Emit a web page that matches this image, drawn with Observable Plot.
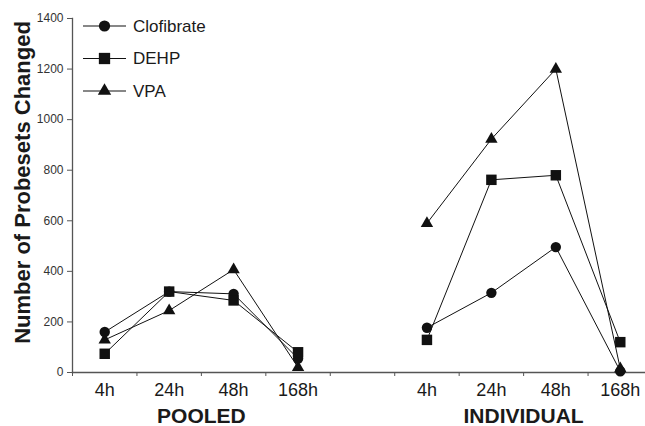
<!DOCTYPE html>
<html>
<head>
<meta charset="utf-8">
<script src="https://cdn.jsdelivr.net/npm/d3@7"></script>
<script src="https://cdn.jsdelivr.net/npm/@observablehq/plot@0.6"></script>
<style>
  html, body { margin: 0; padding: 0; background: white; overflow: hidden; }
  #chart { width: 645px; height: 426px; overflow: hidden; }
  g[aria-label="group labels"] text { letter-spacing: 1.2px; }
</style>
</head>
<body>
<div id="chart"></div>
<script>
// ---- data ----
const series = ["Clofibrate", "DEHP", "VPA"];
const seriesSymbols = ["circle", "square", "triangle"];
const timepoints = ["4h", "24h", "48h", "168h"];
const groups = ["POOLED", "INDIVIDUAL"];

const clofibratePooled = [160, 320, 311, 55];
const dehpPooled = [74, 320, 285, 80];
const vpaPooled = [129, 245, 407, 20];

const clofibrateIndividual = [177, 315, 496, 5];
const dehpIndividual = [129, 762, 780, 120];
const vpaIndividual = [590, 923, 1200, 15];

const yTicks = [0, 200, 400, 600, 800, 1000, 1200, 1400];
const yLabel = "Number of Probesets Changed";

// ---- table built from the arrays ----
const seriesValues = {
  Clofibrate: [clofibratePooled, clofibrateIndividual],
  DEHP: [dehpPooled, dehpIndividual],
  VPA: [vpaPooled, vpaIndividual]
};
const slot = timepoints.length + 1; // one empty slot between groups
const table = [];
series.forEach((s, si) => {
  groups.forEach((g, gi) => {
    seriesValues[s][gi].forEach((v, ti) => {
      table.push({series: s, symbol: seriesSymbols[si], group: g, time: timepoints[ti], pos: gi * slot + ti + 1, value: v});
    });
  });
});
const nSlots = groups.length * slot - 1;
const boundaries = d3.range(0, nSlots + 1).map(i => i + 0.5);
const labelPos = [];
const labelMap = new Map();
groups.forEach((g, gi) => timepoints.forEach((t, ti) => {
  const p = gi * slot + ti + 1;
  labelPos.push(p);
  labelMap.set(p, t);
}));
const groupCenters = groups.map((g, gi) => gi * slot + (timepoints.length + 1) / 2);

const symbolR = {circle: 5.2, square: 5.9, triangle: 4.6};
const drawOrder = ["triangle", "circle", "square"];

const plot = Plot.plot({
  width: 645,
  height: 426,
  marginLeft: 72,
  marginRight: -7,
  marginTop: 18,
  marginBottom: 54,
  style: {fontFamily: "'Liberation Sans', Arial, Helvetica, sans-serif", background: "white", color: "#1a1a1a", overflow: "hidden"},
  x: {type: "linear", domain: [0.5, nSlots + 0.5], axis: null},
  y: {domain: [0, 1400], axis: null},
  marks: [
    Plot.axisY(yTicks, {tickSize: 5, tickPadding: 4, fontSize: 12, label: null, stroke: "#555", fill: "#333", tickFormat: d => String(d)}),
    Plot.axisX(boundaries, {tickSize: 4, tickFormat: () => "", label: null, stroke: "#555"}),
    Plot.axisX(labelPos, {tickSize: 0, tickPadding: 11, fontSize: 18, tickFormat: p => labelMap.get(p), label: null, fill: "#1a1a1a"}),
    Plot.frame({anchor: "left", stroke: "#555", strokeWidth: 1.3}),
    Plot.frame({anchor: "bottom", stroke: "#555", strokeWidth: 1.3}),
    Plot.text(groups, {x: (g, i) => groupCenters[i], frameAnchor: "bottom", dy: 44, text: d => d, fontSize: 21, fontWeight: "bold", lineAnchor: "middle", fill: "#1a1a1a", ariaLabel: "group labels"}),
    Plot.text([yLabel], {frameAnchor: "left", textAnchor: "middle", rotate: -90, dx: -50, dy: -13, text: d => d, fontSize: 22, fontWeight: "bold", lineAnchor: "middle", fill: "#1a1a1a"}),
    Plot.line(table, {x: "pos", y: "value", z: d => d.series + "|" + d.group, stroke: "#111", strokeWidth: 1}),
    ...drawOrder.map(sym => Plot.dot(table.filter(d => d.symbol === sym), {x: "pos", y: "value", symbol: sym, r: symbolR[sym], fill: "#111", stroke: "none"}))
  ]
});
document.getElementById("chart").appendChild(plot);

// ---- legend (inside plot, top-left) ----
const svg = d3.select(plot);
const legend = svg.append("g").attr("transform", "translate(83,26)")
  .attr("font-family", "'Liberation Sans', Arial, Helvetica, sans-serif")
  .attr("text-anchor", "start");
series.forEach((s, i) => {
  const g = legend.append("g").attr("transform", `translate(0,${i * 32.5})`);
  g.append("line").attr("x1", 0).attr("x2", 43).attr("y1", 0).attr("y2", 0).attr("stroke", "#111").attr("stroke-width", 1.2);
  const r = symbolR[seriesSymbols[i]] * 1.08;
  const type = {circle: d3.symbolCircle, square: d3.symbolSquare, triangle: d3.symbolTriangle}[seriesSymbols[i]];
  g.append("path").attr("transform", "translate(21.5,0)").attr("d", d3.symbol(type, Math.PI * r * r)()).attr("fill", "#111");
  g.append("text").attr("x", 50).attr("y", 0).attr("dy", "0.35em").attr("text-anchor", "start").attr("font-size", 17).attr("fill", "#1a1a1a").text(s);
});
</script>
</body>
</html>
